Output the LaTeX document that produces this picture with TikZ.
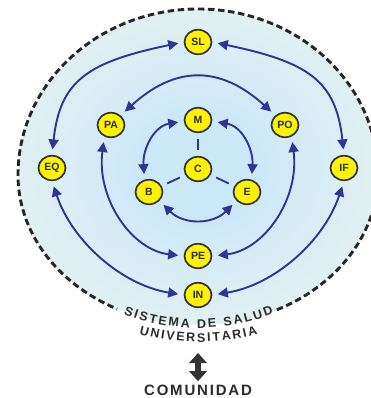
\documentclass[tikz,border=0pt]{standalone}
\usepackage{fontspec}
\setmainfont{Liberation Sans}
\usetikzlibrary{shapes.geometric,arrows.meta,decorations.text}
\definecolor{navy}{HTML}{2E3592}
\definecolor{nodey}{HTML}{FFF200}
\definecolor{nodeb}{HTML}{333333}
\definecolor{dashc}{HTML}{262626}
\definecolor{shA}{HTML}{CBE8F8}
\definecolor{shB}{HTML}{DBEEF4}
\definecolor{shC}{HTML}{E9F3EE}
\definecolor{shD}{HTML}{F6F9F2}
\definecolor{txt}{HTML}{2B2B2B}
\pgfdeclareradialshading{bgshade}{\pgfpoint{0bp}{0bp}}{color(0bp)=(shA); color(8bp)=(shA); color(20bp)=(shB); color(32bp)=(shC); color(50bp)=(shD)}
\newcommand\sysfont{\fontsize{12.5}{12.5}\selectfont\bfseries}
\begin{document}
\begin{tikzpicture}[x=1pt,y=1pt,
  nd/.style={ellipse, draw=nodeb, line width=1.7pt, fill=nodey, minimum width=27pt, minimum height=24.5pt, inner sep=0pt, font=\fontsize{10.5}{10.5}\selectfont\bfseries, text=txt},
  link/.style={draw=navy, line width=1.9pt, {Triangle[length=10pt,width=10pt]}-{Triangle[length=10pt,width=10pt]}, shorten <=5.5pt, shorten >=5.5pt},
  spoke/.style={draw=navy, line width=1.9pt, shorten <=6pt, shorten >=6pt},
  bigarr/.style={draw=nodeb, line width=6.5pt, {Triangle[length=10pt,width=18pt,line width=0pt]}-{Triangle[length=10pt,width=18pt,line width=0pt]}},
  border/.style={draw=dashc, line width=2.9pt, dash pattern=on 6.5pt off 3.6pt}
]
\useasboundingbox (0,0) rectangle (371,-398);
% background
\shade[shading=bgshade] (18,-175) arc[start angle=180, end angle=360, x radius=180, y radius=150]
  arc[start angle=0, end angle=180, x radius=180, y radius=166] -- cycle;
\draw[border] (276.9,-309.8) arc[start angle=-64, end angle=0, x radius=180, y radius=150]
  arc[start angle=0, end angle=180, x radius=180, y radius=166]
  arc[start angle=180, end angle=243.3, x radius=180, y radius=150];
% nodes
\node[nd] (SL) at (198,-42) {SL};
\node[nd] (PA) at (111,-125) {PA};
\node[nd] (M) at (198,-120) {M};
\node[nd] (PO) at (285,-125) {PO};
\node[nd] (EQ) at (52,-168) {EQ};
\node[nd] (C) at (198,-169) {C};
\node[nd] (IF) at (344,-168) {IF};
\node[nd] (B) at (149,-192) {B};
\node[nd] (E) at (247,-192) {E};
\node[nd] (PE) at (198,-256) {PE};
\node[nd] (IN) at (198,-295) {IN};
% outer ring
\draw[link] (SL.west) .. controls +(-95,-20) and +(8,75) .. (EQ.north);
\draw[link] (SL.east) .. controls +(95,-20) and +(-8,75) .. (IF.north);
\draw[link] (EQ.south) .. controls +(20,-60) and +(-62,10) .. (IN.west);
\draw[link] (IF.south) .. controls +(-20,-60) and +(62,10) .. (IN.east);
% middle ring
\draw[link] (PA.45) .. controls +(55,50) and +(-55,50) .. (PO.135);
\draw[link] (PA.240) .. controls +(-8,-62) and +(-52,6) .. (PE.west);
\draw[link] (PO.300) .. controls +(8,-62) and +(52,6) .. (PE.east);
% inner ring
\draw[link] (M.185) .. controls +(-30,-5) and +(-2,30) .. (B.110);
\draw[link] (M.-5) .. controls +(30,-5) and +(2,30) .. (E.70);
\draw[link] (B.-40) .. controls +(24,-24) and +(-24,-24) .. (E.220);
\draw[spoke] (C) -- (M);
\draw[spoke] (C) -- (B);
\draw[spoke] (C) -- (E);
% labels
\path[decorate, decoration={text along path, text={|\sysfont|SISTEMA DE SALUD}, text align={fit to path}, text color=txt}]
  (198,-122) ++(248.8:206) arc[start angle=248.8, end angle=291.5, radius=206];
\path[decorate, decoration={text along path, text={|\sysfont|UNIVERSITARIA}, text align={fit to path}, text color=txt}]
  (198,-122) ++(254.5:220) arc[start angle=254.5, end angle=285.8, radius=220];
\node[font=\fontsize{15}{15}\selectfont\bfseries\addfontfeatures{LetterSpace=12}, text=txt] (com) at (198,-390) {COMUNIDAD};
\coordinate (sysb) at (198,-353);
\draw[bigarr] (sysb) -- (com.north);
\end{tikzpicture}
\end{document}
